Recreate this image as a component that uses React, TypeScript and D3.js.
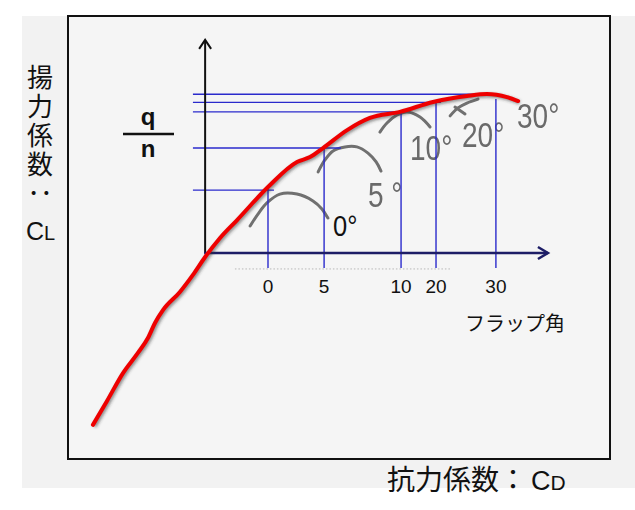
import { useMemo } from "react";
import * as d3 from "d3";

const WIDTH = 635;
const HEIGHT = 510;
const FRAME = { left: 68, right: 610, top: 16, bottom: 459 };
const CJK = "'Noto Sans CJK JP', 'Noto Sans', sans-serif";
const LATIN = "'Liberation Sans', Arial, sans-serif";

// drag coefficient (CD) / lift coefficient (CL) of the envelope curve
const curveCd = [0.0092, 0.0144, 0.0203, 0.0258, 0.0295, 0.0321, 0.0351, 0.0413, 0.0461, 0.0506, 0.0561, 0.0624, 0.0738, 0.0845, 0.0893, 0.0941, 0.103, 0.1114, 0.1225, 0.1347, 0.1472, 0.1546, 0.162, 0.1661];
const curveCl = [0.154, 0.262, 0.388, 0.479, 0.546, 0.614, 0.673, 0.754, 0.831, 0.912, 0.998, 1.079, 1.228, 1.341, 1.363, 1.404, 1.485, 1.54, 1.567, 1.612, 1.639, 1.648, 1.634, 1.616];

// flap angle points on the envelope
const flapLabels = ["0", "5", "10", "20", "30"];
const flapCd = [0.0738, 0.0945, 0.1229, 0.1358, 0.1579];
const flapCl = [1.214, 1.404, 1.567, 1.61, 1.647];
const flapTopCl = [1.228, 1.404, 1.567, 1.612, 1.625];
const flapLineEndCd = [0.076, 0.1007, 0.1229, 0.1376, 0.152];
const flapLineStartCd = 0.0461;
const flapBaseCl = 0.862;

// inner flap-angle axes
const innerOrigin = { cd: 0.0506, cl: 0.93 };
const innerYTopCl = 1.892;
const innerXEndCd = 0.1771;
const dottedCl = 0.858;
const dottedCd = [0.0616, 0.141];

// individual grey lift curves, one per flap angle
const arcs = [
  { cd: [0.0672, 0.0701, 0.0734, 0.0782, 0.0845, 0.0904, 0.0937, 0.0959], cl: [1.052, 1.106, 1.156, 1.196, 1.196, 1.165, 1.129, 1.088] },
  { cd: [0.0923, 0.0948, 0.0978, 0.1022, 0.1066, 0.1107, 0.1137, 0.1155], cl: [1.296, 1.35, 1.391, 1.409, 1.409, 1.381, 1.341, 1.3] },
  { cd: [0.1151, 0.1177, 0.1214, 0.1251, 0.1299, 0.1336], cl: [1.476, 1.517, 1.553, 1.567, 1.544, 1.499] },
  { cd: [0.141, 0.1439, 0.1472, 0.1513], cl: [1.549, 1.585, 1.607, 1.625] },
  { cd: [0.1428, 0.1465], cl: [1.589, 1.558] },
];

const angleLabels = ["0°", "5 °", "10°", "20°", "30°"];
const angleLabelCd = [0.0978, 0.1107, 0.1262, 0.1454, 0.1657];
const angleLabelCl = [1.007, 1.137, 1.35, 1.409, 1.495];

const yLabel = "揚力係数：";

export default function App() {
  const x = useMemo(
    () => d3.scaleLinear().domain([0, 0.2]).range([FRAME.left, FRAME.right]),
    []
  );
  const y = useMemo(
    () => d3.scaleLinear().domain([0, 2]).range([FRAME.bottom, FRAME.top]),
    []
  );

  const arcLine = d3
    .line<[number, number]>()
    .x((d) => x(d[0]))
    .y((d) => y(d[1]))
    .curve(d3.curveCatmullRom.alpha(0.5));

  const envelope = d3
    .line<[number, number]>()
    .x((d) => x(d[0]))
    .y((d) => y(d[1]))
    .curve(d3.curveMonotoneX);

  const curvePath = envelope(curveCd.map((c, i) => [c, curveCl[i]])) ?? "";

  const ox = x(innerOrigin.cd);
  const oy = y(innerOrigin.cl);
  const yTop = y(innerYTopCl);
  const xEnd = x(innerXEndCd);

  return (
    <svg
      width={WIDTH}
      height={HEIGHT}
      style={{ position: "absolute", left: 0, top: 0, background: "#fff" }}
    >
      <defs>
        <filter id="soft" x="-10%" y="-10%" width="120%" height="120%">
          <feGaussianBlur stdDeviation="1.6" />
        </filter>
        <filter id="soft2" x="-10%" y="-10%" width="120%" height="120%">
          <feGaussianBlur stdDeviation="0.5" />
        </filter>
      </defs>

      <rect x={22} y={16} width={WIDTH - 22} height={488 - 16} fill="#f2f2f2" />
      <rect
        x={FRAME.left}
        y={FRAME.top}
        width={FRAME.right - FRAME.left}
        height={FRAME.bottom - FRAME.top}
        fill="#f5f5f5"
        stroke="#111"
        strokeWidth={2}
      />

      {/* grey lift curves per flap angle */}
      <g filter="url(#soft2)">
        {arcs.map((a, i) => (
          <path
            key={i}
            d={arcLine(a.cd.map((c, j) => [c, a.cl[j]])) ?? ""}
            fill="none"
            stroke="#6f6f6f"
            strokeWidth={3}
            strokeLinecap="round"
          />
        ))}
        {angleLabels.slice(1).map((t, k) => {
          const i = k + 1;
          return (
            <text
              key={t}
              transform={`translate(${x(angleLabelCd[i])},${y(angleLabelCl[i])}) scale(0.8,1)`}
              fontFamily={LATIN}
              fontSize={35}
              fill="#6a6a6a"
            >
              {t}
            </text>
          );
        })}
      </g>
      <text
        transform={`translate(${x(angleLabelCd[0])},${y(angleLabelCl[0])}) scale(0.85,1)`}
        fontFamily={LATIN}
        fontSize={30}
        fill="#111"
      >
        {angleLabels[0]}
      </text>

      {/* dotted baseline */}
      <line
        x1={x(dottedCd[0])}
        x2={x(dottedCd[1])}
        y1={y(dottedCl)}
        y2={y(dottedCl)}
        stroke="#b8b8b8"
        strokeWidth={1}
        strokeDasharray="1.5 2"
      />

      {/* flap angle guide lines */}
      <g stroke="#2a2acc" strokeWidth={1.4}>
        {flapLabels.map((f, i) => (
          <g key={f}>
            <line
              x1={x(flapLineStartCd)}
              x2={x(flapLineEndCd[i])}
              y1={y(flapCl[i])}
              y2={y(flapCl[i])}
            />
            <line
              x1={x(flapCd[i])}
              x2={x(flapCd[i])}
              y1={y(flapTopCl[i])}
              y2={y(flapBaseCl)}
            />
          </g>
        ))}
      </g>

      {/* inner axes */}
      <line x1={ox} x2={ox} y1={oy} y2={yTop} stroke="#111" strokeWidth={2} />
      <polyline
        points={`${ox - 6},${yTop + 9} ${ox},${yTop} ${ox + 6},${yTop + 9}`}
        fill="none"
        stroke="#111"
        strokeWidth={2}
      />
      <line x1={ox - 1} x2={xEnd} y1={oy} y2={oy} stroke="#1d1d66" strokeWidth={2.5} />
      <polyline
        points={`${xEnd - 10},${oy - 6} ${xEnd},${oy} ${xEnd - 10},${oy + 6}`}
        fill="none"
        stroke="#1d1d66"
        strokeWidth={2.5}
      />

      {/* envelope curve */}
      <path
        d={curvePath}
        fill="none"
        stroke="#333"
        strokeOpacity={0.55}
        strokeWidth={4}
        transform="translate(1.5,1.5)"
        filter="url(#soft)"
      />
      <path d={curvePath} fill="none" stroke="#ee0000" strokeWidth={4} strokeLinecap="round" />

      {/* flap angle tick labels */}
      {flapLabels.map((f, i) => (
        <text
          key={f}
          x={x(flapCd[i])}
          y={293}
          textAnchor="middle"
          fontFamily={LATIN}
          fontSize={19}
          fill="#111"
        >
          {f}
        </text>
      ))}
      <text x={465} y={331} fontFamily={CJK} fontSize={20} fill="#111">
        フラップ角
      </text>

      {/* q / n */}
      <text x={148} y={125} textAnchor="middle" fontFamily={LATIN} fontWeight="bold" fontSize={24} fill="#111">
        q
      </text>
      <line x1={123} x2={174} y1={134} y2={134} stroke="#111" strokeWidth={2.5} />
      <text x={148} y={157} textAnchor="middle" fontFamily={LATIN} fontWeight="bold" fontSize={24} fill="#111">
        n
      </text>

      {/* vertical axis title */}
      <text
        x={40}
        y={64}
        fontFamily={CJK}
        fontSize={26}
        fill="#111"
        letterSpacing={3}
        style={{ writingMode: "vertical-rl" }}
      >
        {yLabel}
      </text>
      <text x={26} y={240} fontFamily={LATIN} fill="#111">
        <tspan fontSize={25}>C</tspan>
        <tspan fontSize={20}>L</tspan>
      </text>

      {/* horizontal axis title */}
      <text x={387} y={490} fill="#111">
        <tspan fontFamily={CJK} fontSize={28}>抗力係数：</tspan>
        <tspan fontFamily={LATIN} fontSize={27} dx={4}>C</tspan>
        <tspan fontFamily={LATIN} fontSize={21}>D</tspan>
      </text>
    </svg>
  );
}
